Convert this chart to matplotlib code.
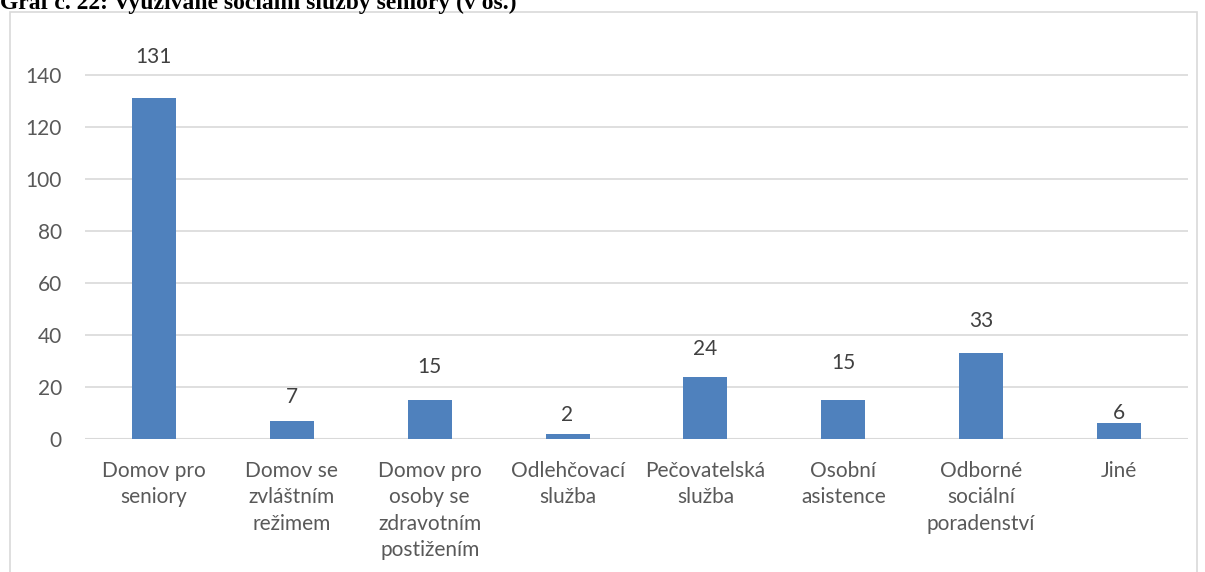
import matplotlib
matplotlib.use("Agg")
import matplotlib.pyplot as plt
from matplotlib.patches import Rectangle

categories = ["Domov pro\nseniory", "Domov se\nzvláštním\nrežimem", "Domov pro\nosoby se\nzdravotním\npostižením",
              "Odlehčovací\nslužba", "Pečovatelská\nslužba", "Osobní\nasistence",
              "Odborné\nsociální\nporadenství", "Jiné"]
values = [131, 7, 15, 2, 24, 15, 33, 6]
yticks = [0, 20, 40, 60, 80, 100, 120, 140]
title = "Graf č. 22: Využívané sociální služby seniory (v os.)"

# label offsets (pixels, label centre above bar top) as placed in the reference
label_offsets = [41, 24, 33, 19, 28, 37, 32, 10]

W, H = 1205, 572
fig = plt.figure(figsize=(W/100, H/100), dpi=100)
fig.patch.set_facecolor("white")
px = 72 / 100  # points per pixel

# chart border
fig.patches.append(Rectangle((10/W, -0.1), (1197-10)/W, (H-12)/H + 0.1, transform=fig.transFigure,
                             fill=False, edgecolor="#D9D9D9", linewidth=1.2))

ax = fig.add_axes([85/W, (H-439)/H, (1188-85)/W, 390/H])
x = range(len(categories))
ax.bar(x, values, width=0.32, color="#4F81BD", zorder=3)
ax.set_xlim(-0.5, len(categories)-0.5)
ax.set_ylim(0, 150)
ax.set_yticks(yticks)
ax.grid(axis="y", color="#D9D9D9", linewidth=1.2, zorder=0)
for s in ax.spines.values():
    s.set_visible(False)
ax.axhline(0, color="#D9D9D9", linewidth=1.5, zorder=2)
fs = 15
ax.tick_params(axis="both", length=0, labelsize=fs, labelcolor="#595959")
ax.set_yticklabels([str(t) for t in yticks], family="Lato")
ax.set_xticks(list(x))
ax.set_xticklabels(categories, family="Lato", linespacing=1.4, va="top")
ax.tick_params(axis="x", pad=22 * px)
ax.tick_params(axis="y", pad=23 * px)
for xi, v, off in zip(x, values, label_offsets):
    ax.annotate(str(v), (xi, v), xytext=(0, off * px), textcoords="offset points",
                ha="center", va="center", fontsize=fs, color="#404040", family="Lato")

fig.text(0, 1 - 9/H, title, family="Liberation Serif", weight="bold", fontsize=17,
         ha="left", va="baseline", color="black")

fig.savefig("out.png", dpi=100)
